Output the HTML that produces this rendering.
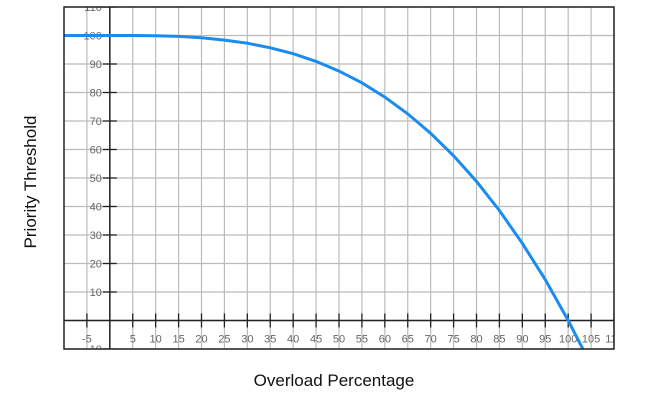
<!DOCTYPE html>
<html><head><meta charset="utf-8"><style>
body{margin:0;background:#fff;width:647px;height:409px;overflow:hidden;font-family:"Liberation Sans",sans-serif}
</style></head><body>
<svg id="c" width="647" height="409" xmlns="http://www.w3.org/2000/svg">
<defs><clipPath id="clip"><rect x="64" y="7" width="550" height="342"/></clipPath></defs>
<g id="grid"></g>
<g id="axes" clip-path="url(#clip)"></g>
<g clip-path="url(#clip)"><path id="curve" fill="none" stroke="#1a8cf0" stroke-width="3"/></g>
<rect x="64" y="7" width="550" height="342" fill="none" stroke="#222" stroke-width="1.5"/>
<text x="334" y="386" text-anchor="middle" font-size="17" fill="#111">Overload Percentage</text>
<text transform="translate(36,182) rotate(-90)" text-anchor="middle" font-size="17" fill="#111">Priority Threshold</text>
</svg>
<script>
const xValues=[-10,0,5,10,15,20,25,30,35,40,45,50,55,60,65,70,75,80,85,90,95,100,104];
const yValues=[100,100,99.99,99.9,99.7,99.2,98.4,97.3,95.7,93.6,90.9,87.5,83.4,78.4,72.5,65.7,57.8,48.8,38.6,27.1,14.3,0,-12.5];
const xTicks=[-5,5,10,15,20,25,30,35,40,45,50,55,60,65,70,75,80,85,90,95,100,105,110];
const yTicks=[-10,10,20,30,40,50,60,70,80,90,100,110];
const X=v=>64+(v+10)*550/120;
const Y=v=>7+(110-v)*342/120;
const ns="http://www.w3.org/2000/svg";
const grid=document.getElementById('grid'),axes=document.getElementById('axes');
function el(t,a,p){const e=document.createElementNS(ns,t);for(const k in a)e.setAttribute(k,a[k]);p.appendChild(e);return e;}
for(let v=-5;v<=110;v+=5){const l=el('line',{x1:X(v),x2:X(v),y1:7,y2:349,stroke:'#bbb','stroke-width':1.2},grid);

}
for(let v=-10;v<=110;v+=10){const l=el('line',{x1:64,x2:614,y1:Y(v),y2:Y(v),stroke:'#bbb','stroke-width':1.2},grid);

}
const xa=el('line',{x1:64,x2:614,y1:Y(0),y2:Y(0),stroke:'#222','stroke-width':1.5},axes);


const ya=el('line',{x1:X(0),x2:X(0),y1:7,y2:349,stroke:'#222','stroke-width':1.5},axes);


xTicks.forEach(v=>{const t=el('line',{x1:X(v),x2:X(v),y1:Y(0)-7,y2:Y(0)+7,stroke:'#222','stroke-width':1.3},axes);


const s=el('text',{x:X(v),y:Y(0)+22,'text-anchor':'middle','font-size':11,fill:'#666'},axes);
s.textContent=v;

});
yTicks.forEach(v=>{const t=el('line',{x1:X(0)-7,x2:X(0)+7,y1:Y(v),y2:Y(v),stroke:'#222','stroke-width':1.3},axes);


const s=el('text',{x:X(0)-8,y:Y(v)+4,'text-anchor':'end','font-size':11,fill:'#666'},axes);
s.textContent=v;

});
document.getElementById('curve').setAttribute('d',xValues.map((v,i)=>(i?'L':'M')+X(v).toFixed(1)+','+Y(yValues[i]).toFixed(1)).join(''));
</script>
</body></html>
